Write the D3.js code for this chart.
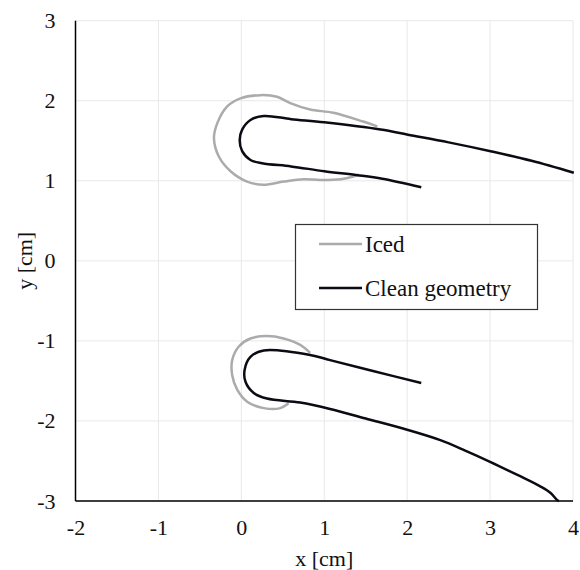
<!DOCTYPE html>
<meta charset="utf-8">
<title>Iced vs clean geometry</title>
<style>
  body { margin:0; padding:0; background:#fff; }
  text { font-family: 'Liberation Serif', 'Times New Roman', serif; fill:#111; }
  .grid line { stroke:#e8e8e8; stroke-width:1; }
</style>
<body>
<div id="chart"></div>
<script src="https://cdn.jsdelivr.net/npm/d3@7"></script>
<script>

// upper element, clean geometry (trailing edge upper -> LE -> lower)
var topCleanX = [4.01, 3.5, 3.02, 2.5, 2.01, 1.68, 1.0, 0.6, 0.27, 0.11, 0.01, -0.02, 0.01, 0.11, 0.25, 0.6, 1.0, 1.4, 1.7, 2.17];
var topCleanY = [1.10, 1.25, 1.366, 1.48, 1.575, 1.64, 1.73, 1.77, 1.81, 1.76, 1.64, 1.51, 1.37, 1.26, 1.22, 1.18, 1.12, 1.07, 1.025, 0.92];

// upper element, iced
var topIcedX = [1.64, 1.47, 1.11, 0.83, 0.59, 0.43, 0.23, -0.01, -0.17, -0.29, -0.33, -0.27, -0.13, 0.07, 0.27, 0.51, 0.75, 0.95, 1.20, 1.34, 1.42];
var topIcedY = [1.68, 1.74, 1.85, 1.89, 1.97, 2.05, 2.07, 2.03, 1.93, 1.72, 1.53, 1.30, 1.12, 0.99, 0.95, 0.99, 1.02, 1.01, 1.02, 1.05, 1.08];

// lower element, clean geometry
var botCleanX = [2.17, 1.6, 1.07, 0.83, 0.27, 0.11, 0.04, 0.05, 0.15, 0.31, 0.71, 1.07, 1.5, 2.0, 2.4, 2.7, 3.0, 3.33, 3.61, 3.73, 3.81, 3.83];
var botCleanY = [-1.525, -1.38, -1.24, -1.175, -1.12, -1.20, -1.36, -1.51, -1.65, -1.72, -1.77, -1.85, -1.97, -2.11, -2.24, -2.37, -2.51, -2.675, -2.82, -2.90, -2.99, -3.0];

// lower element, iced
var botIcedX = [0.83, 0.71, 0.51, 0.31, 0.11, -0.03, -0.11, -0.11, -0.05, 0.07, 0.27, 0.47, 0.57];
var botIcedY = [-1.15, -1.05, -0.97, -0.94, -0.97, -1.07, -1.24, -1.43, -1.61, -1.76, -1.84, -1.84, -1.78];

var xTicks = [-2, -1, 0, 1, 2, 3, 4],
    yTicks = [-3, -2, -1, 0, 1, 2, 3];

var legendNames = ['Iced', 'Clean geometry'],
    legendColors = ['#ababab', '#0b0b14'];

var W = 580, H = 570,
    pLeft = 75.5, pRight = 573, pTop = 20.7, pBottom = 501;

var svg = d3.select("#chart").append("svg").attr("width", W).attr("height", H);

var x = d3.scaleLinear().domain([-2, 4]).range([pLeft, pRight]),
    y = d3.scaleLinear().domain([-3, 3]).range([pBottom, pTop]);

// grid
var grid = svg.append("g").attr("class", "grid");
grid.selectAll(".gx").data(xTicks).enter().append("line")
  .attr("x1", function(d) { return x(d); }).attr("x2", function(d) { return x(d); })
  .attr("y1", pTop).attr("y2", pBottom);
grid.selectAll(".gy").data(yTicks).enter().append("line")
  .attr("x1", pLeft).attr("x2", pRight)
  .attr("y1", function(d) { return y(d); }).attr("y2", function(d) { return y(d); });

// axes (plain hyphen for negatives, like the original)
var fmt = function(d) { return String(d); };
var xAxis = svg.append("g").attr("transform", "translate(0," + pBottom + ")")
  .call(d3.axisBottom(x).tickValues(xTicks).tickSize(0).tickPadding(18).tickFormat(fmt));
var yAxis = svg.append("g").attr("transform", "translate(" + pLeft + ",0)")
  .call(d3.axisLeft(y).tickValues(yTicks).tickSize(0).tickPadding(20).tickFormat(fmt));
[xAxis, yAxis].forEach(function(a) {
  a.select(".domain").attr("stroke", "#000").attr("stroke-width", 1.5);
  a.selectAll("text").style("font-family", "'Liberation Serif', serif").style("font-size", "22px").attr("fill", "#111");
});
xAxis.select(".domain").attr("d", "M" + pLeft + ",0H" + pRight);
yAxis.select(".domain").attr("d", "M0," + pTop + "V" + pBottom);

svg.append("text").attr("x", (pLeft + pRight) / 2).attr("y", 566)
  .attr("text-anchor", "middle").style("font-size", "22px").text("x [cm]");
svg.append("text").attr("transform", "translate(32," + ((pTop + pBottom) / 2) + ") rotate(-90)")
  .attr("text-anchor", "middle").style("font-size", "22px").text("y [cm]");

// curves
var line = d3.line()
  .x(function(d) { return x(d[0]); })
  .y(function(d) { return y(d[1]); })
  .curve(d3.curveCatmullRom.alpha(0.5));

function draw(xs, ys, color) {
  svg.append("path")
    .datum(d3.zip(xs, ys))
    .attr("d", line)
    .attr("fill", "none")
    .attr("stroke", color)
    .attr("stroke-width", 2.5)
    .attr("stroke-linejoin", "round");
}

draw(topIcedX, topIcedY, legendColors[0]);
draw(botIcedX, botIcedY, legendColors[0]);
draw(topCleanX, topCleanY, legendColors[1]);
draw(botCleanX, botCleanY, legendColors[1]);

// legend
var lg = svg.append("g");
lg.append("rect").attr("x", 295.5).attr("y", 224.5).attr("width", 242).attr("height", 85)
  .attr("fill", "#fff").attr("stroke", "#333").attr("stroke-width", 1.2);
legendNames.forEach(function(n, i) {
  var ly = 244 + i * 44;
  lg.append("line").attr("x1", 319).attr("x2", 362).attr("y1", ly).attr("y2", ly)
    .attr("stroke", legendColors[i]).attr("stroke-width", 2.5);
  lg.append("text").attr("x", 365).attr("y", ly).attr("dy", "0.35em")
    .style("font-size", "23px").text(n);
});

</script>
</body>
</html>
